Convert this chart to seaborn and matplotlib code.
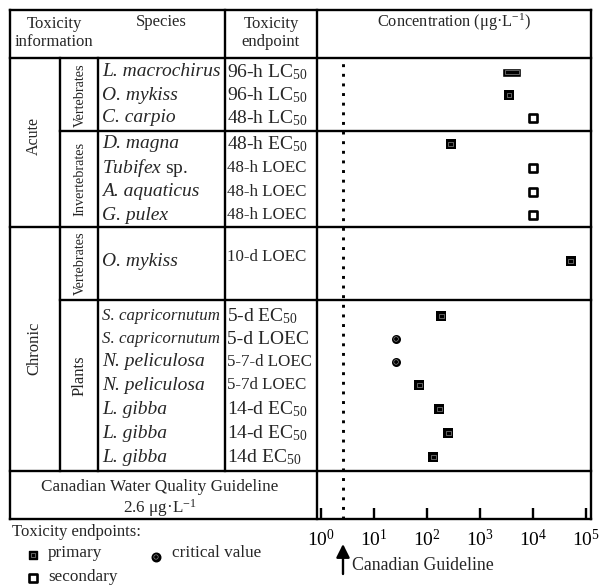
import matplotlib
matplotlib.use("Agg")
import matplotlib.pyplot as plt
import seaborn as sns
import pandas as pd
import numpy as np
from matplotlib.ticker import LogFormatterMathtext

sns.set_theme(style="white")
plt.rcParams["font.family"] = ["Liberation Serif", "DejaVu Serif"]
plt.rcParams["mathtext.fontset"] = "custom"
plt.rcParams["mathtext.rm"] = "Liberation Serif"
plt.rcParams["mathtext.it"] = "Liberation Serif:italic"
plt.rcParams["mathtext.bf"] = "Liberation Serif:bold"

# ---------------- data ----------------
duration = ["Acute"] * 7 + ["Chronic"] * 8
group = (["Vertebrates"] * 3 + ["Invertebrates"] * 4 + ["Vertebrates"] + ["Plants"] * 7)
species = ["L. macrochirus", "O. mykiss", "C. carpio", "D. magna", "Tubifex sp.",
           "A. aquaticus", "G. pulex", "O. mykiss", "S. capricornutum",
           "S. capricornutum", "N. peliculosa", "N. peliculosa", "L. gibba",
           "L. gibba", "L. gibba"]
endpoint = ["96-h LC$_{50}$", "96-h LC$_{50}$", "48-h LC$_{50}$", "48-h EC$_{50}$",
            "48-h LOEC", "48-h LOEC", "48-h LOEC", "10-d LOEC", "5-d EC$_{50}$",
            "5-d LOEC", "5-7-d LOEC", "5-7d LOEC", "14-d EC$_{50}$",
            "14-d EC$_{50}$", "14d EC$_{50}$"]
concentration = [4000, 3550, 10000, 283, 10000, 10000, 10000, 51500, 188,
                 26.5, 26.5, 73, 173, 256, 133]
kind = ["primary", "primary", "secondary", "primary", "secondary", "secondary",
        "secondary", "primary", "primary", "critical", "critical", "primary",
        "primary", "primary", "primary"]
macro_range = [2620, 6000]          # L. macrochirus reported range
guideline = 2.6
tick_values = [1, 10, 100, 1000, 10000, 100000]

# ---------------- layout (pixels) ----------------
W, H = 599, 585
row_y = [72, 95, 118, 144, 168, 192, 215, 261, 316, 339, 362, 385, 409, 433, 457]
endpoint_dy = [0] * 7 + [-4] + [0] * 7
sp_size = [14] * 8 + [12.2, 12.2, 14, 14, 14, 14, 14]
ep_size = [14, 14, 14, 14, 12.2, 12.2, 12.2, 12.2, 14, 14, 12.2, 12.2, 14, 14, 14]

fig = plt.figure(figsize=(W / 100, H / 100), dpi=100)
tab = fig.add_axes([0, 0, 1, 1])
tab.set_xlim(0, W)
tab.set_ylim(H, 0)
tab.axis("off")

LW = 1.7
def hline(y, x0, x1):
    tab.plot([x0, x1], [y, y], color="black", lw=LW, solid_capstyle="projecting")
def vline(x, y0, y1):
    tab.plot([x, x], [y0, y1], color="black", lw=LW, solid_capstyle="projecting")

L, R, T, B = 10, 591, 10, 519
hline(T, L, R); hline(B, L, R)
vline(L, T, B); vline(R, T, B)
hline(58, L, R)
hline(131, 60, R)
hline(227, L, R)
hline(300, 60, R)
hline(471, L, R)
vline(60, 58, 471)
vline(98, 58, 471)
vline(225, T, 471)
vline(317, T, B)

FS = 12
tab.text(54, 33, "Toxicity\ninformation", ha="center", va="center", fontsize=FS,
         linespacing=1.1, multialignment="center")
tab.text(161, 22, "Species", ha="center", va="center", fontsize=FS)
tab.text(271, 33, "Toxicity\nendpoint", ha="center", va="center", fontsize=FS,
         linespacing=1.1, multialignment="center")
tab.text(454, 22, "Concentration (μg·L$^{-1}$)", ha="center", va="center", fontsize=11.8)

tab.text(34, 136, "Acute", rotation=90, ha="center", va="center", fontsize=11.5)
tab.text(34, 348, "Chronic", rotation=90, ha="center", va="center", fontsize=12)
tab.text(80, 95, "Vertebrates", rotation=90, ha="center", va="center", fontsize=10.3)
tab.text(80, 179, "Invertebrates", rotation=90, ha="center", va="center", fontsize=10.3)
tab.text(80, 263, "Vertebrates", rotation=90, ha="center", va="center", fontsize=10.3)
tab.text(80, 376, "Plants", rotation=90, ha="center", va="center", fontsize=12)

for i, sp in enumerate(species):
    if sp.endswith(" sp."):
        tab.text(102, row_y[i], "$\\mathit{" + sp[:-4] + "}$ sp.", ha="left", va="center",
                 fontsize=sp_size[i])
    else:
        tab.text(102, row_y[i], sp, ha="left", va="center", style="italic",
                 fontsize=sp_size[i])
    tab.text(227, row_y[i] + endpoint_dy[i], endpoint[i], ha="left", va="center",
             fontsize=ep_size[i])

tab.text(160, 487, "Canadian Water Quality Guideline", ha="center", va="center", fontsize=12.3)
tab.text(160, 508, "2.6 μg·L$^{-1}$", ha="center", va="center", fontsize=12.3)

# legend
tab.text(12, 532, "Toxicity endpoints:", ha="left", va="center", fontsize=12)
tab.scatter([33], [555], marker="s", s=38, color="black", zorder=3)
tab.scatter([33], [555], marker="s", s=10, facecolor="none", edgecolor="#888", lw=0.5, zorder=4)
tab.text(48, 553, "primary", ha="left", va="center", fontsize=12.3)
tab.scatter([33], [578], marker="s", s=30, facecolor="white", edgecolor="black", lw=1.9, zorder=3)
tab.text(48, 577, "secondary", ha="left", va="center", fontsize=12.3)
tab.scatter([156], [557], marker="o", s=38, color="black", zorder=3)
tab.scatter([156], [557], marker="o", s=10, facecolor="none", edgecolor="#888", lw=0.5, zorder=4)
tab.text(172, 553, "critical value", ha="left", va="center", fontsize=12.3)

tab.annotate("", xy=(343, 544), xytext=(343, 574),
             arrowprops=dict(arrowstyle="-|>", color="black", lw=1.7, mutation_scale=20,
                             shrinkA=0, shrinkB=0))
tab.text(352, 566, "Canadian Guideline", ha="left", va="center", fontsize=12.8)

# ---------------- concentration axis ----------------
x0, x1 = 317, 591
ax = fig.add_axes([x0 / W, (H - B) / H, (x1 - x0) / W, (B - 58) / H])
ax.set_xscale("log")
ax.set_xlim(10 ** -0.066, 10 ** 5.094)
ax.set_ylim(B, 58)
ax.patch.set_alpha(0)
for s in ax.spines.values():
    s.set_visible(False)

df = pd.DataFrame({"species": species, "conc": concentration, "kind": kind, "y": row_y})
df_main = df[df.species != "L. macrochirus"]

ax.axvline(guideline, color="black", lw=2.1, linestyle=(0, (1, 2.3)), zorder=1)

ax.barh([row_y[0]], [macro_range[1] - macro_range[0]], left=[macro_range[0]], height=9,
        color="black", zorder=3)
ax.barh([row_y[0]], [(macro_range[1] - macro_range[0]) * 0.75], left=[macro_range[0] * 1.12],
        height=4.5, facecolor="none", edgecolor="#888", lw=0.5, zorder=4)

prim = df_main[df_main.kind == "primary"]
sec = df_main[df_main.kind == "secondary"]
crit = df_main[df_main.kind == "critical"]

sns.scatterplot(data=prim, x="conc", y="y", marker="s", s=42, color="black",
                edgecolor="black", linewidth=0, ax=ax, zorder=3, legend=False)
sns.scatterplot(data=prim, x="conc", y="y", marker="s", s=11, facecolor="none",
                edgecolor="#888", linewidth=0.5, ax=ax, zorder=4, legend=False)
sns.scatterplot(data=sec, x="conc", y="y", marker="s", s=30, color="white",
                edgecolor="black", linewidth=1.9, ax=ax, zorder=3, legend=False)
sns.scatterplot(data=crit, x="conc", y="y", marker="o", s=42, color="black",
                edgecolor="black", linewidth=0, ax=ax, zorder=3, legend=False)
sns.scatterplot(data=crit, x="conc", y="y", marker="o", s=11, facecolor="none",
                edgecolor="#888", linewidth=0.5, ax=ax, zorder=4, legend=False)

ax.set_xticks(tick_values)
ax.xaxis.set_major_formatter(LogFormatterMathtext())
ax.xaxis.set_minor_locator(plt.NullLocator())
ax.tick_params(axis="x", which="major", direction="in", length=8, width=1.7,
               bottom=True, labelsize=14, pad=7, colors="black")
ax.tick_params(axis="y", left=False, labelleft=False)
ax.set_xlabel(""); ax.set_ylabel("")

fig.savefig("out.png", dpi=100)
